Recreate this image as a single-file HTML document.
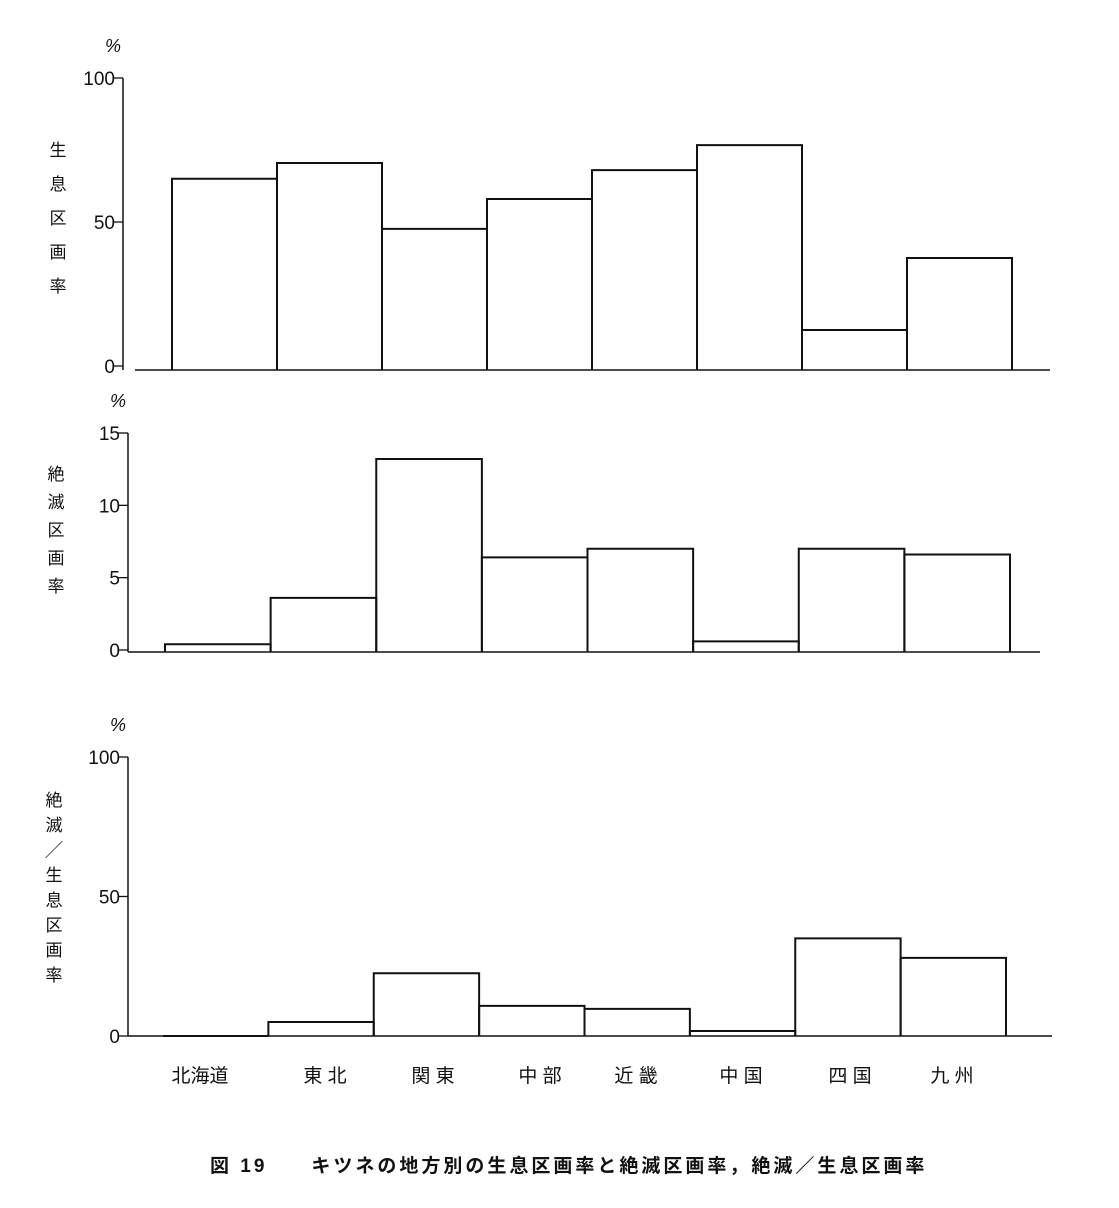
<!DOCTYPE html>
<html><head><meta charset="utf-8">
<style>
html,body{margin:0;padding:0;background:#fff;}
svg{display:block;}
text{font-family:"Liberation Sans","Noto Sans CJK JP",sans-serif;fill:#111;}
</style></head>
<body>
<svg id="chart" width="1119" height="1208" viewBox="0 0 1119 1208"></svg>
<script>
const categories = ["北海道","東北","関東","中部","近畿","中国","四国","九州"];
const catLabels = ["北海道","東 北","関 東","中 部","近 畿","中 国","四 国","九 州"];
const habitatRate = [65, 70.5, 47.6, 58, 68, 76.7, 12.5, 37.5];
const extinctRate = [0.4, 3.6, 13.2, 6.4, 7.0, 0.6, 7.0, 6.6];
const ratioRate = [0, 5, 22.5, 10.8, 9.7, 1.8, 35, 28];
const ticks1 = [0, 50, 100];
const ticks2 = [0, 5, 10, 15];
const ticks3 = [0, 50, 100];

const NS = "http://www.w3.org/2000/svg";
const svg = document.getElementById("chart");
function el(tag, attrs, parent){
  const e = document.createElementNS(NS, tag);
  for (const k in attrs) e.setAttribute(k, attrs[k]);
  (parent||svg).appendChild(e);
  return e;
}
function panel(cfg){
  const g = el("g", {});
  
  
  const y = v => cfg.y0 - (v - 0) / (cfg.vmax) * (cfg.y0 - cfg.yTop);
  const bw = (cfg.x1 - cfg.x0) / cfg.values.length;
  const x = i => cfg.x0 + i * bw;
  const ax = el("line", {x1:cfg.ax, y1:y(cfg.vmax), x2:cfg.ax, y2:cfg.base, stroke:"#111","stroke-width":1.5}, g);
  
  
  const bl = el("line", {x1:cfg.blx0, y1:cfg.base, x2:cfg.blx1, y2:cfg.base, stroke:"#111","stroke-width":1.5}, g);
  
  
  cfg.ticks.forEach(t => {
    const tl = el("line", {x1:cfg.ax-10, y1:y(t), x2:cfg.ax, y2:y(t), stroke:"#111","stroke-width":1.3}, g);
    
    
    const tx = el("text", {x:cfg.ax-8, y:y(t)+7, "text-anchor":"end","font-size":19}, g);
    tx.textContent = t;
    
    
  });
  const pc = el("text", {x:cfg.ax-10, y:y(cfg.vmax)-26, "text-anchor":"middle","font-size":18,"font-style":"italic"}, g);
  pc.textContent = "%";
  
  
  cfg.title.forEach((ch, k) => {
    const t = el("text", {x:cfg.tx, y:cfg.ty + k*cfg.tstep, "text-anchor":"middle","font-size":17}, g);
    t.textContent = ch;
    
    
  });
  cfg.values.forEach((v, i) => {
    const top = y(v);
    const p = el("path", {d:`M${x(i)} ${cfg.base} L${x(i)} ${top} L${x(i)+bw} ${top} L${x(i)+bw} ${cfg.base}`, fill:"none", stroke:"#111","stroke-width":2}, g);
    
    
  });
}
panel({name:"habitat-panel", values:habitatRate, ticks:ticks1, vmax:100, y0:366, yTop:78, base:370, ax:123, blx0:135, blx1:1050, x0:172, x1:1012, title:["生","息","区","画","率"], tx:58, ty:156, tstep:34});
panel({name:"extinct-panel", values:extinctRate, ticks:ticks2, vmax:15, y0:650, yTop:433, base:652, ax:128, blx0:128, blx1:1040, x0:165, x1:1010, title:["絶","滅","区","画","率"], tx:56, ty:480, tstep:28});
panel({name:"ratio-panel", values:ratioRate, ticks:ticks3, vmax:100, y0:1036, yTop:757, base:1036, ax:128, blx0:128, blx1:1052, x0:163, x1:1006, title:["絶","滅","╱","生","息","区","画","率"], tx:54, ty:806, tstep:25});

const catX = [200, 325, 433, 540, 636, 741, 850, 952];
catLabels.forEach((c, i) => {
  const t = el("text", {x:catX[i], y:1082, "text-anchor":"middle","font-size":19});
  t.textContent = c;
  
  
});
const cap = el("text", {x:210, y:1172, "font-size":19, "font-weight":"bold", "letter-spacing":"3"});
cap.textContent = "図 19　　キツネの地方別の生息区画率と絶滅区画率，絶滅／生息区画率";


</script>
</body></html>
